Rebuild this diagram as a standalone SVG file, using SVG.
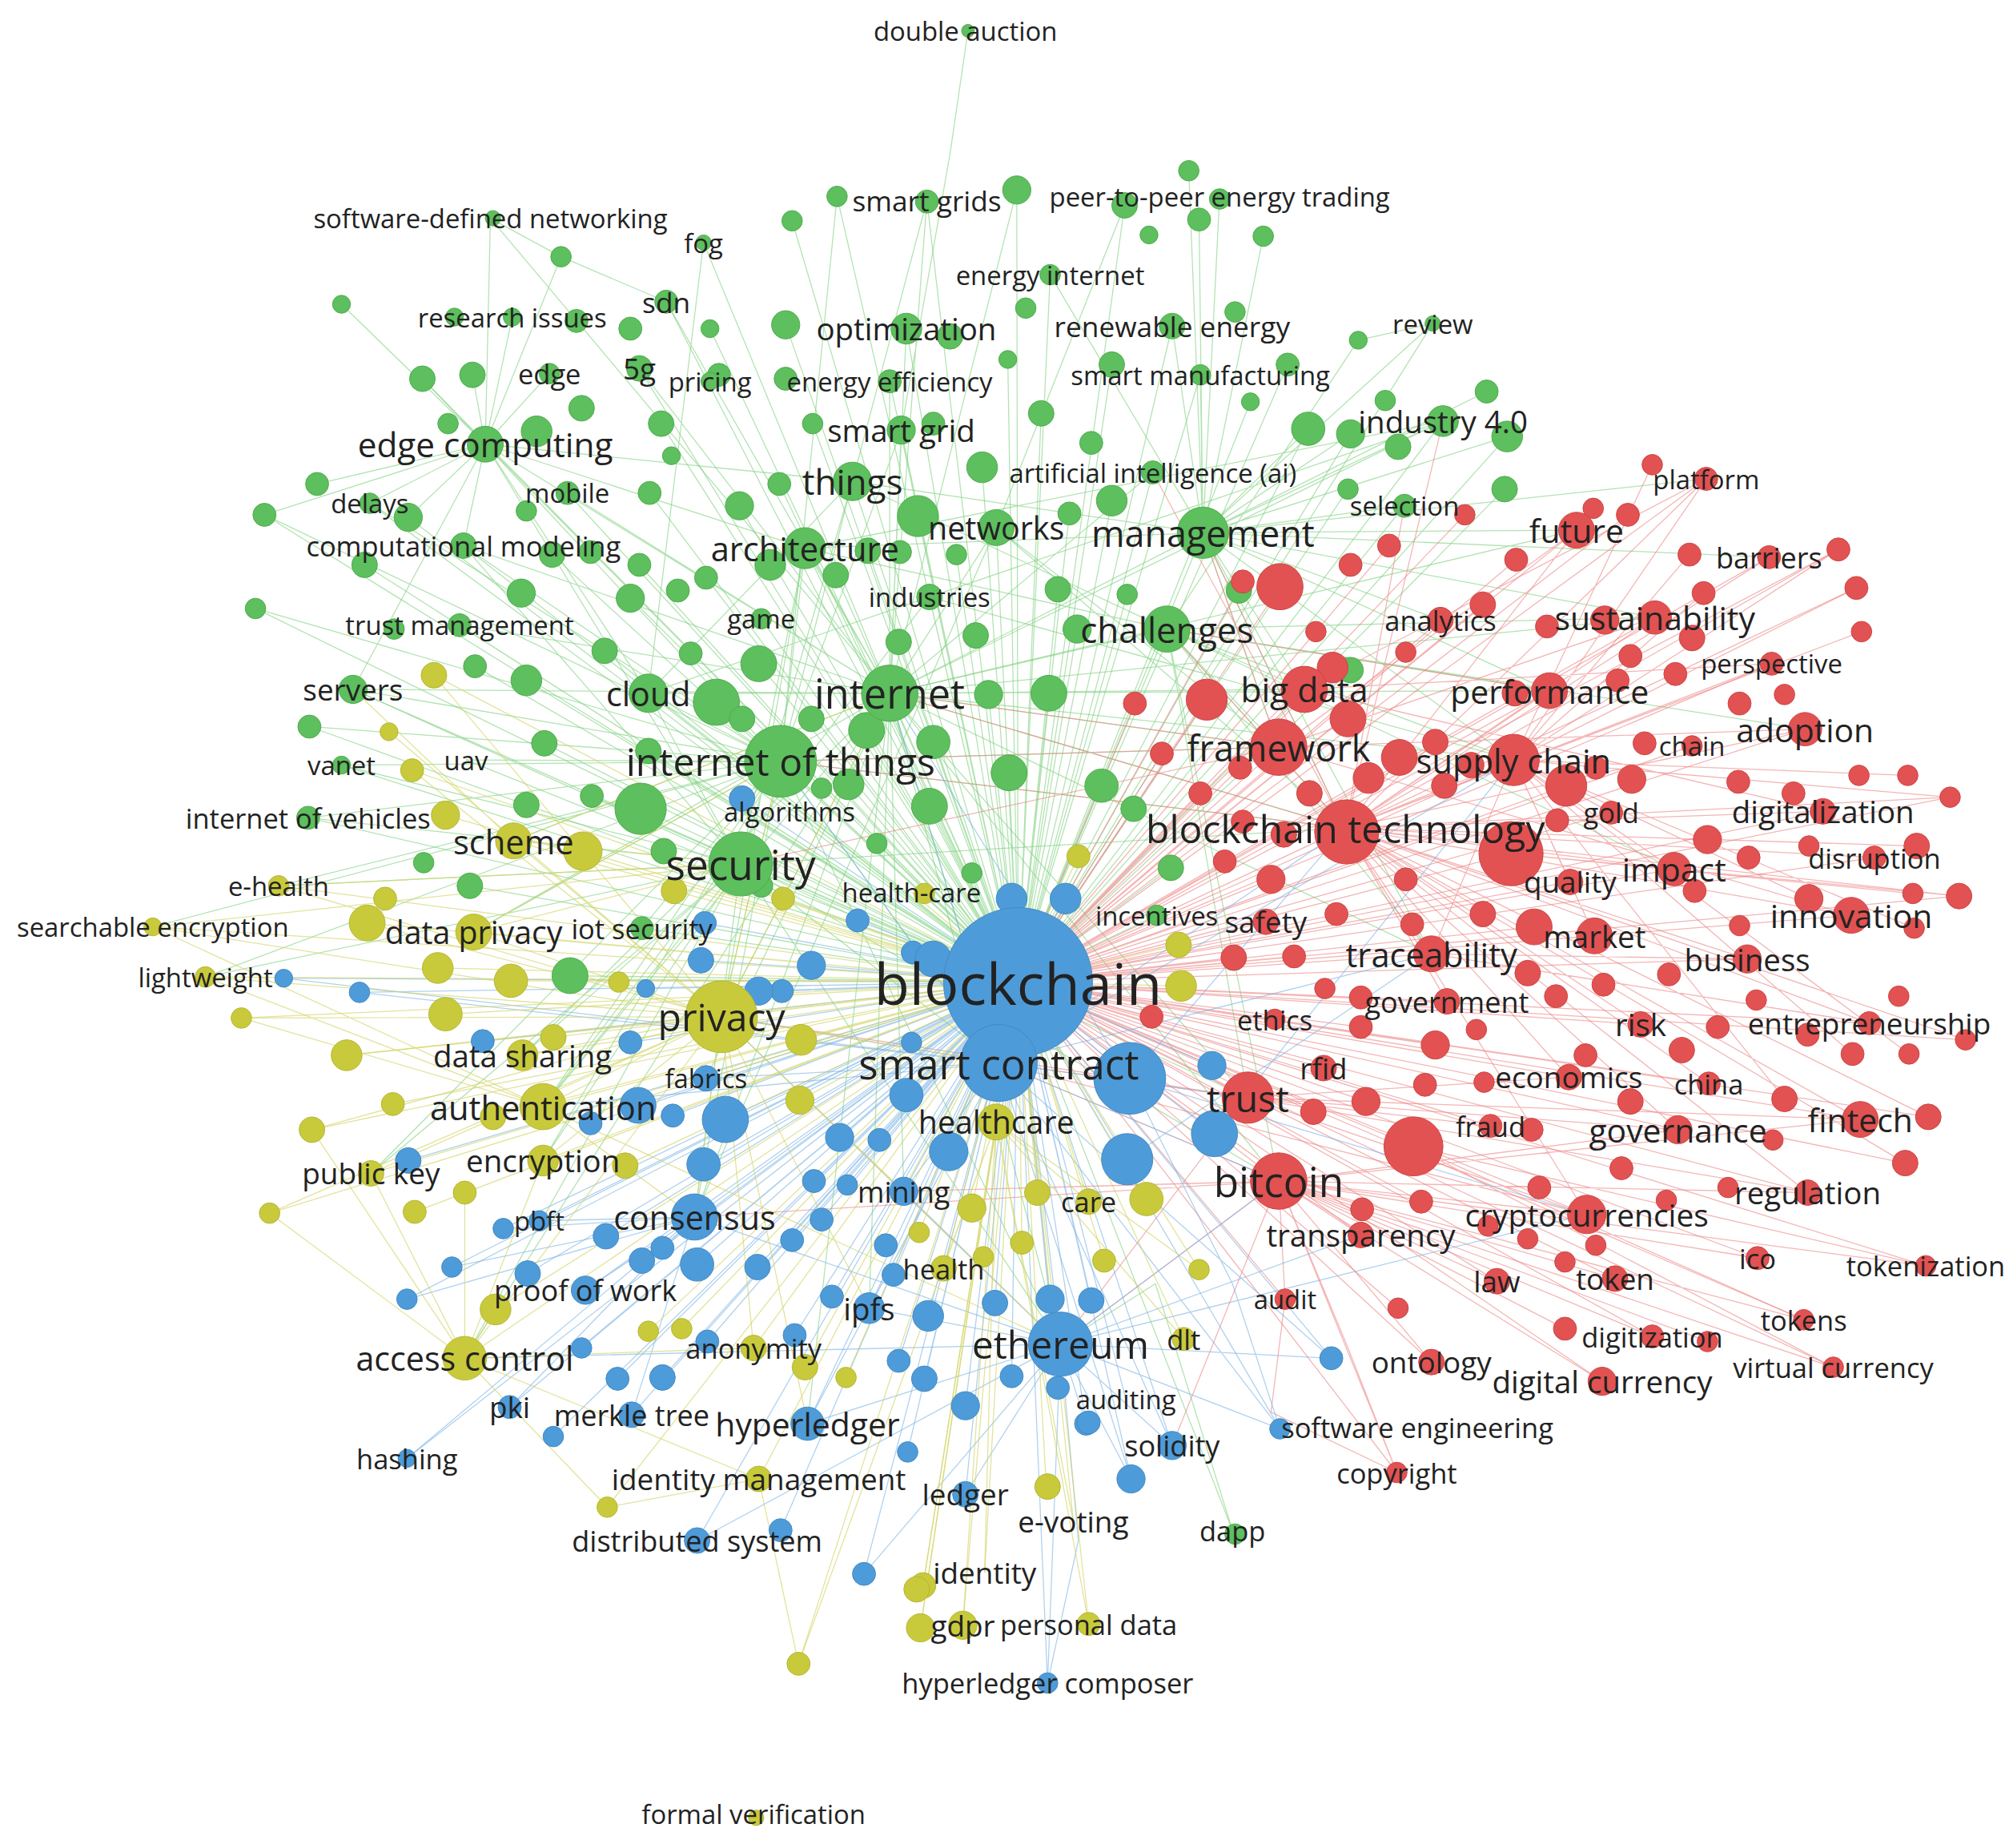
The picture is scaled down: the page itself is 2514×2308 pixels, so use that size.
<svg xmlns="http://www.w3.org/2000/svg" width="2514" height="2308" viewBox="0 0 2514 2308">
<style>
text{font-family:"Open Sans","Noto Sans","Liberation Sans",sans-serif;fill:#222;text-anchor:middle;dominant-baseline:central}
.g circle{fill:#5dbf5d;stroke:#4eaa4e;stroke-width:0.6}
.r circle{fill:#e25252;stroke:#cc4444;stroke-width:0.6}
.b circle{fill:#4e9bd9;stroke:#4388c2;stroke-width:0.6}
.y circle{fill:#c8ca3c;stroke:#b3b532;stroke-width:0.6}
.eg{stroke:#7fd07f;stroke-opacity:0.6;fill:none;stroke-width:0.8}
.er{stroke:#ec8484;stroke-opacity:0.6;fill:none;stroke-width:0.8}
.eb{stroke:#7ab2e3;stroke-opacity:0.6;fill:none;stroke-width:0.8}
.ey{stroke:#d2d466;stroke-opacity:0.65;fill:none;stroke-width:0.8}
</style>
<rect width="2514" height="2308" fill="#ffffff"/>
<g transform="scale(1.60332)">
<g id="connectors">
<path class="eg" d="M793 765L722 156M793 765L706 256M793 765L818 214M793 765L913 254M793 765L693 297M793 765L702 335M793 765L664 375M793 765L776 411M793 765L937 415M793 765L627 427M793 765L724 465M793 765L909 490M793 765L693 540M793 765L608 593M793 765L577 673M793 765L505 540M793 765L378 346M793 765L898 368M793 765L1124 328M793 765L498 287M793 765L519 235M793 765L935 292M793 765L275 537M793 765L361 425M793 765L358 487M793 765L593 482M793 765L442 384M793 765L288 392M793 765L1094 394M793 765L652 153M793 765L792 148M793 765L617 172M793 765L876 160M793 765L553 256M793 765L612 253M793 765L785 280M793 765L866 284M793 765L1003 284M793 765L515 330M793 765L633 330M793 765L811 322M793 765L974 313M793 765L1019 334M793 765L1052 338M793 765L1174 340M793 765L765 364M793 765L576 394M793 765L607 377M793 765L506 384M793 765L715 402M793 765L866 390M793 765L833 400M793 765L1050 381M793 765L1172 381M793 765L430 432M793 765L498 440M793 765L550 450M793 765L676 429M793 765L745 432M793 765L491 466M793 765L651 448M793 765L824 459M793 765L878 463M793 765L965 460M793 765L471 507M793 765L591 517M793 765L770 541M793 765L817 540M793 765L839 490M793 765L424 579M793 765L505 585M793 765L558 547M793 765L675 569M793 765L727 578M793 765L786 602M793 765L858 612M793 765L883 630M793 765L461 620M793 765L499 630M793 765L724 628M793 765L661 611M793 765L683 657M793 765L757 680M793 765L912 676M793 765L901 713M793 765L500 723M793 765L266 596M793 765L240 637M793 765L363 592M793 765L1052 522M793 765L1116 252M793 765L960 1192M793 765L410 530M793 765L370 519M793 765L241 566M793 765L199 474M793 765L206 401M793 765L318 403M793 765L284 440M793 765L329 295M793 765L444 760M793 765L366 690"/>
<path class="eg" d="M693 540L722 156M693 540L706 256M693 540L693 297M693 540L702 335M693 540L627 427M693 540L505 540M693 540L378 346M693 540L275 537M693 540L442 384M693 540L498 287M693 540L519 235M693 540L937 415M693 540L909 490M693 540L776 411M693 540L361 425M693 540L358 487M693 540L1124 328M693 540L898 368M693 540L548 189M693 540L382 170M608 593L378 346M608 593L275 537M608 593L266 596M608 593L240 637M608 593L363 592M608 593L288 392M608 593L361 425M608 593L199 474M608 593L206 401M608 593L241 566M608 593L505 540M608 593L500 723M608 593L627 427M608 593L664 375M608 593L702 335M937 415L1124 328M937 415L1094 394M937 415L1174 340M937 415L1158 305M937 415L1019 334M937 415L935 292M937 415L913 254M937 415L818 214M937 415L950 153M937 415L1116 252M937 415L984 184M937 415L1052 338M937 415L926 133M937 415L934 171M378 346L266 237M378 346L329 295M378 346L368 292M378 346L428 291M378 346L399 247M378 346L247 377M378 346L206 401M378 346L288 392M378 346L318 403M378 346L361 425M378 346L275 537M378 346L505 540M378 346L382 170M378 346L437 200M754 24L740 120L702 335M382 170L437 200L519 235M548 189L505 540M722 156L664 375M652 153L608 593M792 148L693 540M876 160L776 411M577 673L275 537M577 673L378 346M577 673L361 425M577 673L505 540M577 673L266 596M577 673L240 637M664 375L909 490M627 427L937 415M505 540L1124 328M1116 252L1058 265L909 490M960 1192L900 1000L826 1047"/>
<path class="eg" d="M693 540L1016 537M693 540L996 582M693 540L1048 645M693 540L1179 592M693 540L1207 538M693 540L1228 413M693 540L1115 743M693 540L972 855M693 540L996 920M693 540L1289 481M693 540L541 948M693 540L826 1047M693 540L778 828M693 540L677 1019M693 540L704 928M693 540L550 840M693 540L629 1109M693 540L562 792M693 540L423 862M693 540L400 655M693 540L369 726M693 540L362 1058M693 540L407 822M608 593L562 792M608 593L423 862M608 593L423 904M608 593L369 726M608 593L541 948M608 593L778 828M608 593L1048 645M608 593L996 582M608 593L826 1047M608 593L289 914M608 593L217 690M608 593L160 761M608 593L119 722M577 673L423 862M577 673L423 904M577 673L362 1058M577 673L407 822M577 673L541 948M577 673L289 914M577 673L217 690M577 673L160 761M577 673L778 828M577 673L826 1047M577 673L1048 645M577 673L996 920M577 673L972 855M937 415L1016 537M937 415L996 582M937 415L1048 645M937 415L1179 592M937 415L1207 538M937 415L1289 481M937 415L1228 413M937 415L1122 483M937 415L1115 743M937 415L1329 373M937 415L1378 434M909 490L1016 537M909 490L996 582M909 490L1048 645M909 490L1179 592M909 490L1207 538M909 490L1289 481M909 490L1406 568M909 490L1304 677M909 490L1115 743M909 490L972 855M909 490L996 920M627 427L378 346M627 427L1124 328M627 427L909 490M627 427L562 792M627 427L577 673M664 375L378 346M664 375L937 415M664 375L505 540M664 375L577 673M776 411L1048 645M776 411L996 582M776 411L541 948M724 465L1179 592M724 465L423 862"/>
<path class="er" d="M793 765L1329 373M793 765L1228 413M793 765L1378 434M793 765L1122 483M793 765L1289 481M793 765L1380 517M793 765L1016 537M793 765L1207 538M793 765L996 582M793 765L1179 592M793 765L1318 581M793 765L1406 568M793 765L1048 645M793 765L1255 633M793 765L1420 632M793 765L1460 668M793 765L1304 677M793 765L1223 687M793 765L1442 713M793 765L986 718M793 765L1242 729M793 765L1115 743M793 765L1361 747M793 765L1127 780M793 765L1278 798M793 765L1456 797M793 765L993 794M793 765L1031 832M793 765L1222 839M793 765L1331 844M793 765L972 855M793 765L1161 877M793 765L1307 880M793 765L1449 872M793 765L996 920M793 765L1408 929M793 765L1236 946M793 765L1060 962M793 765L1166 998M793 765L1258 996M793 765L1369 980M793 765L1001 1012M793 765L1405 1028M793 765L1287 1041M793 765L1115 1061M793 765L1248 1076M793 765L1428 1065M793 765L1088 1147M793 765L1101 893M793 765L1177 665M793 765L997 457M793 765L940 545M793 765L1500 986M793 765L1519 621M793 765L1526 698M793 765L1531 810M793 765L1484 906M793 765L1502 870M793 765L1432 428M793 765L1446 458M793 765L1268 401M793 765L1181 436M793 765L1141 401M793 765L1082 425M793 765L1025 492M793 765L968 453M793 765L1155 471M793 765L1038 520M793 765L884 548M793 765L905 587M793 765L966 598M793 765L1066 606M793 765L1220 612M793 765L1195 722M793 765L990 685M793 765L961 746M793 765L954 671M793 765L935 618M793 765L897 792M793 765L1008 745M793 765L1064 858M793 765L1023 866M793 765L1118 814M793 765L1060 800M793 765L1107 936M793 765L1089 1019"/>
<path class="er" d="M1048 645L1329 373M1048 645L1228 413M1048 645L1378 434M1048 645L1289 481M1048 645L1380 517M1048 645L1207 538M1048 645L1179 592M1048 645L1406 568M1048 645L1420 632M1048 645L1460 668M1048 645L1304 677M1048 645L1442 713M1048 645L1361 747M1048 645L1456 797M1048 645L1278 798M1048 645L1331 844M1048 645L1307 880M1048 645L1449 872M1048 645L1408 929M1048 645L1236 946M1048 645L1115 743M1048 645L1127 780M1048 645L1222 839M1048 645L1519 621M1048 645L1526 698M1048 645L1531 810M1048 645L1484 906M1048 645L1502 870M1048 645L1432 428M1048 645L1450 492M1048 645L1493 659M1179 592L1329 373M1179 592L1432 428M1179 592L1446 458M1179 592L1486 604M1179 592L1519 621M1179 592L1491 723M1179 592L1487 821M1179 592L1409 700M1179 592L1443 821M1179 592L1390 856M1179 592L1115 743M1179 592L1242 729M1179 592L1223 687M1179 592L1304 677M1179 592L1255 633M1179 592L1287 362M1179 592L1316 432M1179 592L1327 462M996 920L1236 946M996 920L1166 998M996 920L1258 996M996 920L1369 980M996 920L1405 1028M996 920L1287 1041M996 920L1428 1065M996 920L1248 1076M996 920L1115 1061M996 920L1088 1147M996 920L1001 1012M996 920L1060 962M996 920L1219 1035M996 920L1500 986M996 920L1408 929M996 920L1449 872M996 920L1307 880M996 920L1330 1045M972 855L1449 872M972 855L1408 929M972 855L1236 946M972 855L1307 880M972 855L1161 877M972 855L1222 839M996 582L1228 413M996 582L1289 481M996 582L1442 713M996 582L1406 568M1016 537L1329 373M1016 537L1380 517M1016 537L1420 632M1115 743L1456 797M1115 743L1361 747M1101 893L1428 1065M1101 893L1405 1028M1101 893L1500 986M1177 665L1526 698M1177 665L1490 696M1088 1147L1050 1050L996 920M1001 1012L990 1100L1088 1147M1048 645L937 415M1048 645L909 490M1048 645L1124 328M1048 645L693 540M1048 645L608 593M1048 645L1094 394M1048 645L898 368M996 920L826 1047M996 920L778 828M996 920L541 948M996 920L704 928M996 920L913 1126M972 855L778 828M972 855L826 1047M972 855L562 792M996 582L693 540M996 582L608 593M996 582L577 673M996 582L937 415M1207 538L909 490M1236 946L778 828"/>
<path class="eb" d="M793 765L550 840M793 765L541 948M793 765L420 951M793 765L456 1005M793 765L704 928M793 765L677 1019M793 765L826 1047M793 765L397 1096M793 765L492 1102M793 765L629 1109M793 765L317 1136M793 765L913 1126M793 765L752 1164M793 765L543 1200M793 765L816 1311M793 765L997 1113M793 765L877 1090M793 765L578 622M793 765L221 762M793 765L280 773M793 765L376 811M793 765L491 812M793 765L460 875M793 765L524 869M793 765L565 872M793 765L497 861M793 765L548 907M793 765L654 886M793 765L685 888M793 765L706 853M793 765L739 897M793 765L711 742M793 765L668 717M793 765L632 752M793 765L609 772M793 765L591 772M793 765L546 748M793 765L503 770M793 765L549 719M793 765L710 812M793 765L944 830M793 765L946 883M793 765L880 840M793 765L878 903M793 765L660 923M793 765L634 920M793 765L640 950M793 765L318 904M793 765L392 957M793 765L352 987M793 765L411 992M793 765L472 963M793 765L500 982M793 765L543 985M793 765L590 987M793 765L516 972M793 765L617 966M793 765L696 993M793 765L648 1010M793 765L619 1040M793 765L723 1025M793 765L775 1015M793 765L818 1012M793 765L850 1013M793 765L317 1012M793 765L453 1050M793 765L481 1074M793 765L516 1073M793 765L551 1045M793 765L720 1074M793 765L752 1095M793 765L788 1072M793 765L846 1109M793 765L824 1081M793 765L881 1152M793 765L707 1131M793 765L431 1119M793 765L673 1226M793 765L1037 1058M793 765L608 1192M793 765L700 1060M793 765L727 747M793 765L788 700M793 765L830 700"/>
<path class="eb" d="M826 1047L913 1126M826 1047L881 1152M826 1047L816 1311M826 1047L752 1164M826 1047L629 1109M826 1047L677 1019M826 1047L704 928M826 1047L541 948M826 1047L997 1113M826 1047L1037 1058M826 1047L846 1109M826 1047L673 1226M826 1047L543 1200M541 948L420 951M541 948L456 1005M541 948L397 1096M541 948L317 1136M541 948L492 1102M541 948L352 987M541 948L317 1012M541 948L392 957M778 828L550 840M778 828L704 928M778 828L677 1019M778 828L629 1109M778 828L913 1126M778 828L881 1152M778 828L997 1113M778 828L1037 1058M778 828L280 773M778 828L221 762M997 1113L960 1000L880 840M816 1311L840 1200L826 1047M778 828L562 792M778 828L423 862M778 828L608 593M778 828L693 540M778 828L1048 645M778 828L996 920M778 828L972 855M778 828L1115 743M778 828L1179 592M826 1047L996 920M826 1047L1060 962M826 1047L1236 946M826 1047L562 792M826 1047L362 1058M880 840L1048 645M880 840L693 540M880 840L1236 946M878 903L1115 743M946 883L1179 592"/>
<path class="ey" d="M793 765L400 655M793 765L217 690M793 765L119 722M793 765L369 726M793 765L160 761M793 765L562 792M793 765L407 822M793 765L423 862M793 765L423 904M793 765L289 914M793 765L362 1058M793 765L587 1050M793 765L922 1043M793 765L848 936M793 765L735 988M793 765L776 874M793 765L591 1152M793 765L836 1185M793 765L767 1225M793 765L750 1266M793 765L848 1265M793 765L710 695M793 765L338 526M793 765L321 600M793 765L347 635M793 765L454 663M793 765L525 694M793 765L286 719M793 765L341 754M793 765L398 764M793 765L188 793M793 765L347 790M793 765L270 822M793 765L431 808M793 765L306 860M793 765L243 880M793 765L384 870M793 765L487 908M793 765L362 929M793 765L323 944M793 765L210 945M793 765L386 1020M793 765L505 1037M793 765L531 1035M793 765L627 1065M793 765L659 1073M793 765L716 960M793 765L757 941M793 765L796 968M793 765L808 929M793 765L893 934M793 765L860 982M793 765L934 989M793 765L719 1235M793 765L717 1268M793 765L622 1296M793 765L473 1174M793 765L815 1158M793 765L624 810M793 765L623 857M793 765L920 768M793 765L918 736M793 765L840 667M793 765L610 700"/>
<path class="ey" d="M562 792L400 655M562 792L369 726M562 792L217 690M562 792L119 722M562 792L160 761M562 792L407 822M562 792L423 862M562 792L423 904M562 792L289 914M562 792L362 1058M562 792L587 1050M562 792L210 945M562 792L243 880M562 792L188 793M562 792L270 822M562 792L286 719M562 792L338 526M562 792L321 600M562 792L303 570M362 1058L423 904M362 1058L289 914M362 1058L362 929M362 1058L386 1020M362 1058L591 1152M362 1058L473 1174M362 1058L587 1050M362 1058L210 945M362 1058L243 880M776 874L848 936M776 874L735 988M776 874L836 1185M776 874L767 1225M776 874L750 1266M776 874L848 1265M776 874L622 1296M776 874L717 1268M776 874L719 1235M776 874L922 1043M776 874L934 989M577 673L400 655M577 673L217 690M577 673L119 722M577 673L369 726M423 862L119 722M423 862L160 761M423 862L188 793M591 1152L622 1296M591 1152L473 1174M562 792L778 828M562 792L826 1047M562 792L541 948M562 792L608 593M562 792L693 540M562 792L704 928M562 792L677 1019M562 792L629 1109M400 655L693 540M400 655L275 537M369 726L608 593M423 862L541 948M423 862L826 1047"/>
</g>
<g id="nodes">
<g class="g"><circle cx="926" cy="133" r="8"/></g><g class="g"><circle cx="652" cy="153" r="8"/></g><g class="g"><circle cx="792" cy="148" r="11"/></g><g class="g"><circle cx="617" cy="172" r="8"/></g><g class="g"><circle cx="876" cy="160" r="10"/></g><g class="g"><circle cx="934" cy="171" r="9"/></g><g class="g"><circle cx="895" cy="183" r="7"/></g><g class="g"><circle cx="984" cy="184" r="8"/></g><g class="g"><circle cx="437" cy="200" r="8"/></g><g class="g"><circle cx="266" cy="237" r="7"/></g><g class="g"><circle cx="799" cy="240" r="8"/></g><g class="g"><circle cx="962" cy="243" r="8"/></g><g class="g"><circle cx="1058" cy="265" r="7"/></g><g class="g"><circle cx="354" cy="247" r="7"/></g><g class="g"><circle cx="449" cy="250" r="9"/></g><g class="g"><circle cx="491" cy="256" r="9"/></g><g class="g"><circle cx="612" cy="253" r="11"/></g><g class="g"><circle cx="553" cy="256" r="7"/></g><g class="g"><circle cx="785" cy="280" r="7"/></g><g class="g"><circle cx="866" cy="284" r="10"/></g><g class="g"><circle cx="1003" cy="284" r="9"/></g><g class="g"><circle cx="329" cy="295" r="10"/></g><g class="g"><circle cx="368" cy="292" r="10"/></g><g class="g"><circle cx="453" cy="318" r="10"/></g><g class="g"><circle cx="515" cy="330" r="10"/></g><g class="g"><circle cx="633" cy="330" r="8"/></g><g class="g"><circle cx="811" cy="322" r="10"/></g><g class="g"><circle cx="974" cy="313" r="7"/></g><g class="g"><circle cx="1019" cy="334" r="13"/></g><g class="g"><circle cx="1052" cy="338" r="11"/></g><g class="g"><circle cx="1079" cy="312" r="8"/></g><g class="g"><circle cx="1158" cy="305" r="9"/></g><g class="g"><circle cx="1174" cy="340" r="12"/></g><g class="g"><circle cx="1089" cy="348" r="10"/></g><g class="g"><circle cx="349" cy="330" r="8"/></g><g class="g"><circle cx="418" cy="336" r="12"/></g><g class="g"><circle cx="765" cy="364" r="12"/></g><g class="g"><circle cx="727" cy="330" r="9"/></g><g class="g"><circle cx="523" cy="355" r="7"/></g><g class="g"><circle cx="576" cy="394" r="11"/></g><g class="g"><circle cx="607" cy="377" r="9"/></g><g class="g"><circle cx="506" cy="384" r="9"/></g><g class="g"><circle cx="247" cy="377" r="9"/></g><g class="g"><circle cx="206" cy="401" r="9"/></g><g class="g"><circle cx="318" cy="403" r="11"/></g><g class="g"><circle cx="410" cy="398" r="8"/></g><g class="g"><circle cx="715" cy="402" r="16"/></g><g class="g"><circle cx="866" cy="390" r="12"/></g><g class="g"><circle cx="833" cy="400" r="9"/></g><g class="g"><circle cx="1050" cy="381" r="8"/></g><g class="g"><circle cx="1172" cy="381" r="10"/></g><g class="g"><circle cx="284" cy="440" r="10"/></g><g class="g"><circle cx="430" cy="432" r="10"/></g><g class="g"><circle cx="460" cy="430" r="9"/></g><g class="g"><circle cx="498" cy="440" r="9"/></g><g class="g"><circle cx="550" cy="450" r="9"/></g><g class="g"><circle cx="676" cy="429" r="10"/></g><g class="g"><circle cx="701" cy="430" r="9"/></g><g class="g"><circle cx="745" cy="432" r="8"/></g><g class="g"><circle cx="199" cy="474" r="8"/></g><g class="g"><circle cx="406" cy="462" r="11"/></g><g class="g"><circle cx="491" cy="466" r="11"/></g><g class="g"><circle cx="528" cy="460" r="9"/></g><g class="g"><circle cx="651" cy="448" r="10"/></g><g class="g"><circle cx="824" cy="459" r="10"/></g><g class="g"><circle cx="878" cy="463" r="8"/></g><g class="g"><circle cx="965" cy="460" r="10"/></g><g class="g"><circle cx="307" cy="490" r="8"/></g><g class="g"><circle cx="370" cy="519" r="9"/></g><g class="g"><circle cx="410" cy="530" r="12"/></g><g class="g"><circle cx="471" cy="507" r="10"/></g><g class="g"><circle cx="591" cy="517" r="14"/></g><g class="g"><circle cx="538" cy="509" r="9"/></g><g class="g"><circle cx="770" cy="541" r="11"/></g><g class="g"><circle cx="817" cy="540" r="14"/></g><g class="g"><circle cx="839" cy="490" r="11"/></g><g class="g"><circle cx="1052" cy="522" r="10"/></g><g class="g"><circle cx="241" cy="566" r="9"/></g><g class="g"><circle cx="424" cy="579" r="10"/></g><g class="g"><circle cx="505" cy="585" r="10"/></g><g class="g"><circle cx="558" cy="547" r="18"/></g><g class="g"><circle cx="675" cy="569" r="14"/></g><g class="g"><circle cx="727" cy="578" r="13"/></g><g class="g"><circle cx="786" cy="602" r="14"/></g><g class="g"><circle cx="858" cy="612" r="13"/></g><g class="g"><circle cx="883" cy="630" r="10"/></g><g class="g"><circle cx="461" cy="620" r="9"/></g><g class="g"><circle cx="410" cy="627" r="10"/></g><g class="g"><circle cx="499" cy="630" r="20"/></g><g class="g"><circle cx="724" cy="628" r="14"/></g><g class="g"><circle cx="661" cy="611" r="12"/></g><g class="g"><circle cx="640" cy="614" r="8"/></g><g class="g"><circle cx="517" cy="663" r="10"/></g><g class="g"><circle cx="683" cy="657" r="8"/></g><g class="g"><circle cx="366" cy="690" r="10"/></g><g class="g"><circle cx="593" cy="690" r="9"/></g><g class="g"><circle cx="757" cy="680" r="8"/></g><g class="g"><circle cx="912" cy="676" r="10"/></g><g class="g"><circle cx="444" cy="760" r="14"/></g><g class="g"><circle cx="330" cy="672" r="8"/></g><g class="g"><circle cx="578" cy="560" r="10"/></g><g class="g"><circle cx="632" cy="560" r="10"/></g><g class="g"><circle cx="760" cy="495" r="10"/></g><g class="g"><circle cx="700" cy="500" r="10"/></g><g class="g"><circle cx="600" cy="440" r="12"/></g><g class="g"><circle cx="850" cy="345" r="9"/></g><g class="g"><circle cx="740" cy="262" r="10"/></g><g class="g"><circle cx="612" cy="295" r="9"/></g><g class="g"><circle cx="560" cy="292" r="9"/></g>
<g class="r"><circle cx="1287" cy="362" r="8"/></g><g class="r"><circle cx="1268" cy="401" r="9"/></g><g class="r"><circle cx="1241" cy="396" r="8"/></g><g class="r"><circle cx="1181" cy="436" r="9"/></g><g class="r"><circle cx="1141" cy="401" r="8"/></g><g class="r"><circle cx="1082" cy="425" r="9"/></g><g class="r"><circle cx="1052" cy="440" r="9"/></g><g class="r"><circle cx="1025" cy="492" r="8"/></g><g class="r"><circle cx="968" cy="453" r="9"/></g><g class="r"><circle cx="1155" cy="471" r="10"/></g><g class="r"><circle cx="1316" cy="432" r="9"/></g><g class="r"><circle cx="1432" cy="428" r="9"/></g><g class="r"><circle cx="1446" cy="458" r="9"/></g><g class="r"><circle cx="1450" cy="492" r="8"/></g><g class="r"><circle cx="1327" cy="462" r="9"/></g><g class="r"><circle cx="1318" cy="497" r="10"/></g><g class="r"><circle cx="1305" cy="525" r="9"/></g><g class="r"><circle cx="1355" cy="548" r="9"/></g><g class="r"><circle cx="1390" cy="541" r="8"/></g><g class="r"><circle cx="1270" cy="511" r="9"/></g><g class="r"><circle cx="1250" cy="483" r="11"/></g><g class="r"><circle cx="1205" cy="488" r="9"/></g><g class="r"><circle cx="1095" cy="508" r="8"/></g><g class="r"><circle cx="1038" cy="520" r="12"/></g><g class="r"><circle cx="884" cy="548" r="9"/></g><g class="r"><circle cx="905" cy="587" r="9"/></g><g class="r"><circle cx="940" cy="545" r="16"/></g><g class="r"><circle cx="966" cy="598" r="9"/></g><g class="r"><circle cx="1066" cy="606" r="12"/></g><g class="r"><circle cx="1118" cy="578" r="10"/></g><g class="r"><circle cx="1146" cy="596" r="10"/></g><g class="r"><circle cx="1220" cy="612" r="16"/></g><g class="r"><circle cx="1243" cy="598" r="9"/></g><g class="r"><circle cx="1281" cy="579" r="9"/></g><g class="r"><circle cx="1271" cy="607" r="11"/></g><g class="r"><circle cx="1354" cy="609" r="9"/></g><g class="r"><circle cx="1397" cy="618" r="9"/></g><g class="r"><circle cx="1448" cy="604" r="8"/></g><g class="r"><circle cx="1486" cy="604" r="8"/></g><g class="r"><circle cx="1519" cy="621" r="8"/></g><g class="r"><circle cx="1493" cy="659" r="10"/></g><g class="r"><circle cx="1409" cy="659" r="8"/></g><g class="r"><circle cx="1362" cy="668" r="9"/></g><g class="r"><circle cx="1330" cy="654" r="11"/></g><g class="r"><circle cx="1213" cy="639" r="9"/></g><g class="r"><circle cx="1320" cy="694" r="9"/></g><g class="r"><circle cx="1355" cy="721" r="8"/></g><g class="r"><circle cx="1409" cy="700" r="11"/></g><g class="r"><circle cx="1490" cy="696" r="8"/></g><g class="r"><circle cx="1526" cy="698" r="10"/></g><g class="r"><circle cx="1491" cy="723" r="8"/></g><g class="r"><circle cx="1195" cy="722" r="14"/></g><g class="r"><circle cx="1155" cy="712" r="10"/></g><g class="r"><circle cx="1095" cy="685" r="9"/></g><g class="r"><circle cx="1041" cy="712" r="9"/></g><g class="r"><circle cx="990" cy="685" r="11"/></g><g class="r"><circle cx="961" cy="746" r="10"/></g><g class="r"><circle cx="954" cy="671" r="9"/></g><g class="r"><circle cx="935" cy="618" r="9"/></g><g class="r"><circle cx="968" cy="640" r="9"/></g><g class="r"><circle cx="897" cy="792" r="9"/></g><g class="r"><circle cx="1008" cy="745" r="9"/></g><g class="r"><circle cx="1032" cy="770" r="8"/></g><g class="r"><circle cx="1060" cy="777" r="9"/></g><g class="r"><circle cx="1190" cy="758" r="10"/></g><g class="r"><circle cx="1212" cy="776" r="9"/></g><g class="r"><circle cx="1249" cy="767" r="9"/></g><g class="r"><circle cx="1300" cy="759" r="9"/></g><g class="r"><circle cx="1368" cy="779" r="8"/></g><g class="r"><circle cx="1408" cy="806" r="9"/></g><g class="r"><circle cx="1479" cy="776" r="8"/></g><g class="r"><circle cx="1487" cy="821" r="8"/></g><g class="r"><circle cx="1531" cy="810" r="8"/></g><g class="r"><circle cx="1443" cy="821" r="9"/></g><g class="r"><circle cx="1338" cy="800" r="9"/></g><g class="r"><circle cx="1310" cy="818" r="10"/></g><g class="r"><circle cx="1270" cy="858" r="10"/></g><g class="r"><circle cx="1235" cy="822" r="9"/></g><g class="r"><circle cx="1150" cy="802" r="8"/></g><g class="r"><circle cx="1060" cy="800" r="9"/></g><g class="r"><circle cx="1118" cy="814" r="11"/></g><g class="r"><circle cx="1064" cy="858" r="11"/></g><g class="r"><circle cx="1110" cy="845" r="9"/></g><g class="r"><circle cx="1023" cy="866" r="10"/></g><g class="r"><circle cx="1193" cy="880" r="9"/></g><g class="r"><circle cx="1156" cy="843" r="8"/></g><g class="r"><circle cx="1263" cy="910" r="9"/></g><g class="r"><circle cx="1298" cy="935" r="8"/></g><g class="r"><circle cx="1346" cy="925" r="8"/></g><g class="r"><circle cx="1381" cy="888" r="8"/></g><g class="r"><circle cx="1390" cy="856" r="10"/></g><g class="r"><circle cx="1484" cy="906" r="10"/></g><g class="r"><circle cx="1502" cy="870" r="10"/></g><g class="r"><circle cx="1199" cy="925" r="9"/></g><g class="r"><circle cx="1107" cy="936" r="9"/></g><g class="r"><circle cx="1061" cy="942" r="9"/></g><g class="r"><circle cx="1159" cy="955" r="8"/></g><g class="r"><circle cx="1190" cy="965" r="8"/></g><g class="r"><circle cx="1243" cy="970" r="8"/></g><g class="r"><circle cx="1219" cy="983" r="8"/></g><g class="r"><circle cx="1089" cy="1019" r="8"/></g><g class="r"><circle cx="1219" cy="1035" r="9"/></g><g class="r"><circle cx="1330" cy="1045" r="8"/></g><g class="r"><circle cx="1177" cy="665" r="25"/></g><g class="r"><circle cx="1101" cy="893" r="23"/></g><g class="r"><circle cx="997" cy="457" r="18"/></g><g class="r"><circle cx="1050" cy="560" r="14"/></g><g class="r"><circle cx="1125" cy="612" r="10"/></g><g class="r"><circle cx="1180" cy="540" r="10"/></g><g class="r"><circle cx="1100" cy="720" r="9"/></g><g class="r"><circle cx="1020" cy="618" r="10"/></g><g class="r"><circle cx="1090" cy="590" r="14"/></g><g class="r"><circle cx="1000" cy="650" r="10"/></g><g class="r"><circle cx="1260" cy="530" r="9"/></g>
<g class="b"><circle cx="280" cy="773" r="8"/></g><g class="b"><circle cx="376" cy="811" r="9"/></g><g class="b"><circle cx="491" cy="812" r="9"/></g><g class="b"><circle cx="460" cy="875" r="9"/></g><g class="b"><circle cx="524" cy="869" r="9"/></g><g class="b"><circle cx="565" cy="872" r="18"/></g><g class="b"><circle cx="497" cy="861" r="14"/></g><g class="b"><circle cx="548" cy="907" r="13"/></g><g class="b"><circle cx="654" cy="886" r="11"/></g><g class="b"><circle cx="685" cy="888" r="9"/></g><g class="b"><circle cx="706" cy="853" r="13"/></g><g class="b"><circle cx="739" cy="897" r="15"/></g><g class="b"><circle cx="711" cy="742" r="9"/></g><g class="b"><circle cx="668" cy="717" r="9"/></g><g class="b"><circle cx="632" cy="752" r="11"/></g><g class="b"><circle cx="609" cy="772" r="9"/></g><g class="b"><circle cx="591" cy="772" r="11"/></g><g class="b"><circle cx="546" cy="748" r="10"/></g><g class="b"><circle cx="503" cy="770" r="7"/></g><g class="b"><circle cx="549" cy="719" r="9"/></g><g class="b"><circle cx="710" cy="812" r="8"/></g><g class="b"><circle cx="944" cy="830" r="11"/></g><g class="b"><circle cx="946" cy="883" r="18"/></g><g class="b"><circle cx="880" cy="840" r="28"/></g><g class="b"><circle cx="878" cy="903" r="20"/></g><g class="b"><circle cx="660" cy="923" r="8"/></g><g class="b"><circle cx="634" cy="920" r="9"/></g><g class="b"><circle cx="640" cy="950" r="9"/></g><g class="b"><circle cx="318" cy="904" r="10"/></g><g class="b"><circle cx="392" cy="957" r="8"/></g><g class="b"><circle cx="352" cy="987" r="8"/></g><g class="b"><circle cx="411" cy="992" r="10"/></g><g class="b"><circle cx="472" cy="963" r="10"/></g><g class="b"><circle cx="500" cy="982" r="10"/></g><g class="b"><circle cx="543" cy="985" r="13"/></g><g class="b"><circle cx="590" cy="987" r="10"/></g><g class="b"><circle cx="516" cy="972" r="9"/></g><g class="b"><circle cx="617" cy="966" r="9"/></g><g class="b"><circle cx="696" cy="993" r="9"/></g><g class="b"><circle cx="648" cy="1010" r="9"/></g><g class="b"><circle cx="619" cy="1040" r="9"/></g><g class="b"><circle cx="723" cy="1025" r="12"/></g><g class="b"><circle cx="775" cy="1015" r="10"/></g><g class="b"><circle cx="818" cy="1012" r="11"/></g><g class="b"><circle cx="850" cy="1013" r="10"/></g><g class="b"><circle cx="317" cy="1012" r="8"/></g><g class="b"><circle cx="453" cy="1050" r="8"/></g><g class="b"><circle cx="481" cy="1074" r="9"/></g><g class="b"><circle cx="516" cy="1073" r="10"/></g><g class="b"><circle cx="551" cy="1045" r="9"/></g><g class="b"><circle cx="720" cy="1074" r="10"/></g><g class="b"><circle cx="752" cy="1095" r="11"/></g><g class="b"><circle cx="788" cy="1072" r="9"/></g><g class="b"><circle cx="846" cy="1109" r="9"/></g><g class="b"><circle cx="824" cy="1081" r="9"/></g><g class="b"><circle cx="881" cy="1152" r="11"/></g><g class="b"><circle cx="707" cy="1131" r="8"/></g><g class="b"><circle cx="431" cy="1119" r="8"/></g><g class="b"><circle cx="673" cy="1226" r="9"/></g><g class="b"><circle cx="1037" cy="1058" r="9"/></g><g class="b"><circle cx="608" cy="1192" r="9"/></g><g class="b"><circle cx="700" cy="1060" r="9"/></g><g class="b"><circle cx="727" cy="747" r="14"/></g><g class="b"><circle cx="788" cy="700" r="12"/></g><g class="b"><circle cx="830" cy="700" r="12"/></g><g class="b"><circle cx="690" cy="970" r="9"/></g><g class="b"><circle cx="221" cy="762" r="7"/></g>
<g class="y"><circle cx="338" cy="526" r="10"/></g><g class="y"><circle cx="303" cy="570" r="7"/></g><g class="y"><circle cx="347" cy="635" r="11"/></g><g class="y"><circle cx="454" cy="663" r="15"/></g><g class="y"><circle cx="525" cy="694" r="10"/></g><g class="y"><circle cx="286" cy="719" r="14"/></g><g class="y"><circle cx="341" cy="754" r="12"/></g><g class="y"><circle cx="398" cy="764" r="13"/></g><g class="y"><circle cx="188" cy="793" r="8"/></g><g class="y"><circle cx="347" cy="790" r="13"/></g><g class="y"><circle cx="270" cy="822" r="12"/></g><g class="y"><circle cx="431" cy="808" r="10"/></g><g class="y"><circle cx="306" cy="860" r="9"/></g><g class="y"><circle cx="243" cy="880" r="10"/></g><g class="y"><circle cx="384" cy="870" r="10"/></g><g class="y"><circle cx="487" cy="908" r="10"/></g><g class="y"><circle cx="362" cy="929" r="9"/></g><g class="y"><circle cx="323" cy="944" r="9"/></g><g class="y"><circle cx="210" cy="945" r="8"/></g><g class="y"><circle cx="386" cy="1020" r="12"/></g><g class="y"><circle cx="505" cy="1037" r="8"/></g><g class="y"><circle cx="531" cy="1035" r="8"/></g><g class="y"><circle cx="627" cy="1065" r="10"/></g><g class="y"><circle cx="659" cy="1073" r="8"/></g><g class="y"><circle cx="716" cy="960" r="8"/></g><g class="y"><circle cx="757" cy="941" r="11"/></g><g class="y"><circle cx="796" cy="968" r="9"/></g><g class="y"><circle cx="808" cy="929" r="10"/></g><g class="y"><circle cx="893" cy="934" r="13"/></g><g class="y"><circle cx="860" cy="982" r="9"/></g><g class="y"><circle cx="934" cy="989" r="8"/></g><g class="y"><circle cx="766" cy="979" r="8"/></g><g class="y"><circle cx="719" cy="1235" r="10"/></g><g class="y"><circle cx="717" cy="1268" r="11"/></g><g class="y"><circle cx="622" cy="1296" r="9"/></g><g class="y"><circle cx="473" cy="1174" r="8"/></g><g class="y"><circle cx="624" cy="810" r="12"/></g><g class="y"><circle cx="623" cy="857" r="11"/></g><g class="y"><circle cx="920" cy="768" r="12"/></g><g class="y"><circle cx="918" cy="736" r="10"/></g><g class="y"><circle cx="840" cy="667" r="9"/></g><g class="y"><circle cx="610" cy="700" r="9"/></g><g class="y"><circle cx="482" cy="765" r="8"/></g><g class="y"><circle cx="300" cy="700" r="9"/></g>

<g id="blockchain" class="b"><circle cx="793" cy="765" r="58"/><text x="793" y="765" font-size="45">blockchain</text></g>
<g id="internet-of-things" class="g"><circle cx="608" cy="593" r="28"/><text x="608" y="593" font-size="30">internet of things</text></g>
<g id="privacy" class="y"><circle cx="562" cy="792" r="28"/><text x="562" y="792" font-size="30">privacy</text></g>
<g id="smart-contract" class="b"><circle cx="778" cy="828" r="30"/><text x="778" y="828" font-size="32">smart contract</text></g>
<g id="security" class="g"><circle cx="577" cy="673" r="25"/><text x="577" y="673" font-size="32">security</text></g>
<g id="ethereum" class="b"><circle cx="826" cy="1047" r="25"/><text x="826" y="1047" font-size="30">ethereum</text></g>
<g id="blockchain-technology" class="r"><circle cx="1049" cy="648" r="25"/><text x="1048" y="645" font-size="30">blockchain technology</text></g>
<g id="internet" class="g"><circle cx="693" cy="540" r="22"/><text x="693" y="540" font-size="31.5">internet</text></g>
<g id="bitcoin" class="r"><circle cx="996" cy="920" r="22"/><text x="996" y="920" font-size="32">bitcoin</text></g>
<g id="framework" class="r"><circle cx="996" cy="582" r="22"/><text x="996" y="582" font-size="28">framework</text></g>
<g id="management" class="g"><circle cx="937" cy="415" r="20"/><text x="937" y="415" font-size="28">management</text></g>
<g id="supply-chain" class="r"><circle cx="1179" cy="592" r="20"/><text x="1179" y="592" font-size="26">supply chain</text></g>
<g id="trust" class="r"><circle cx="972" cy="855" r="20"/><text x="972" y="855" font-size="29">trust</text></g>
<g id="challenges" class="g"><circle cx="909" cy="490" r="18"/><text x="909" y="490" font-size="27.5">challenges</text></g>
<g id="big-data" class="r"><circle cx="1016" cy="537" r="18"/><text x="1016" y="537" font-size="26.5">big data</text></g>
<g id="authentication" class="y"><circle cx="423" cy="862" r="18"/><text x="423" y="862" font-size="26">authentication</text></g>
<g id="consensus" class="b"><circle cx="541" cy="948" r="18"/><text x="541" y="948" font-size="25.7">consensus</text></g>
<g id="access-control" class="y"><circle cx="362" cy="1058" r="17"/><text x="362" y="1058" font-size="25.7">access control</text></g>
<g id="architecture" class="g"><circle cx="627" cy="427" r="16"/><text x="627" y="427" font-size="26">architecture</text></g>
<g id="things" class="g"><circle cx="664" cy="375" r="15"/><text x="664" y="375" font-size="27.5">things</text></g>
<g id="cloud" class="g"><circle cx="505" cy="540" r="15"/><text x="505" y="540" font-size="25.7">cloud</text></g>
<g id="cryptocurrencies" class="r"><circle cx="1236" cy="946" r="15"/><text x="1236" y="946" font-size="24.3">cryptocurrencies</text></g>
<g id="edge-computing" class="g"><circle cx="378" cy="346" r="14"/><text x="378" y="346" font-size="26.4">edge computing</text></g>
<g id="networks" class="g"><circle cx="776" cy="411" r="14"/><text x="776" y="411" font-size="24.6">networks</text></g>
<g id="scheme" class="y"><circle cx="400" cy="655" r="14"/><text x="400" y="655" font-size="26">scheme</text></g>
<g id="data-privacy" class="y"><circle cx="369" cy="726" r="14"/><text x="369" y="726" font-size="24.5">data privacy</text></g>
<g id="healthcare" class="y"><circle cx="776" cy="874" r="14"/><text x="776" y="874" font-size="24.5">healthcare</text></g>
<g id="future" class="r"><circle cx="1228" cy="413" r="14"/><text x="1228" y="413" font-size="25.5">future</text></g>
<g id="performance" class="r"><circle cx="1207" cy="538" r="14"/><text x="1207" y="538" font-size="25.5">performance</text></g>
<g id="innovation" class="r"><circle cx="1442" cy="713" r="14"/><text x="1442" y="713" font-size="25.5">innovation</text></g>
<g id="market" class="r"><circle cx="1242" cy="729" r="14"/><text x="1242" y="729" font-size="24">market</text></g>
<g id="traceability" class="r"><circle cx="1115" cy="743" r="14"/><text x="1115" y="743" font-size="26">traceability</text></g>
<g id="fintech" class="r"><circle cx="1449" cy="872" r="14"/><text x="1449" y="872" font-size="25.5">fintech</text></g>
<g id="sustainability" class="r"><circle cx="1289" cy="481" r="13"/><text x="1289" y="481" font-size="25.5">sustainability</text></g>
<g id="adoption" class="r"><circle cx="1406" cy="568" r="13"/><text x="1406" y="568" font-size="25.5">adoption</text></g>
<g id="impact" class="r"><circle cx="1304" cy="677" r="13"/><text x="1304" y="677" font-size="25.5">impact</text></g>
<g id="hyperledger" class="b"><circle cx="629" cy="1109" r="13"/><text x="629" y="1109" font-size="25.5">hyperledger</text></g>
<g id="optimization" class="g"><circle cx="706" cy="256" r="12"/><text x="706" y="256" font-size="24">optimization</text></g>
<g id="industry-4-0" class="g"><circle cx="1124" cy="328" r="12"/><text x="1124" y="328" font-size="24">industry 4.0</text></g>
<g id="data-sharing" class="y"><circle cx="407" cy="822" r="12"/><text x="407" y="822" font-size="24">data sharing</text></g>
<g id="encryption" class="y"><circle cx="423" cy="904" r="12"/><text x="423" y="904" font-size="24">encryption</text></g>
<g id="ipfs" class="b"><circle cx="677" cy="1019" r="12"/><text x="677" y="1019" font-size="24">ipfs</text></g>
<g id="smart-grid" class="g"><circle cx="702" cy="335" r="11"/><text x="702" y="335" font-size="24">smart grid</text></g>
<g id="servers" class="g"><circle cx="275" cy="537" r="11"/><text x="275" y="537" font-size="23">servers</text></g>
<g id="proof-of-work" class="b"><circle cx="456" cy="1005" r="11"/><text x="456" y="1005" font-size="22.5">proof of work</text></g>
<g id="mining" class="b"><circle cx="704" cy="928" r="11"/><text x="704" y="928" font-size="22.5">mining</text></g>
<g id="solidity" class="b"><circle cx="913" cy="1126" r="11"/><text x="913" y="1126" font-size="22.5">solidity</text></g>
<g id="gdpr" class="y"><circle cx="750" cy="1266" r="11"/><text x="750" y="1266" font-size="23">gdpr</text></g>
<g id="business" class="r"><circle cx="1361" cy="747" r="11"/><text x="1361" y="747" font-size="24">business</text></g>
<g id="governance" class="r"><circle cx="1307" cy="880" r="11"/><text x="1307" y="880" font-size="25.5">governance</text></g>
<g id="digital-currency" class="r"><circle cx="1248" cy="1076" r="11"/><text x="1248" y="1076" font-size="24">digital currency</text></g>
<g id="renewable-energy" class="g"><circle cx="913" cy="254" r="10"/><text x="913" y="254" font-size="22">renewable energy</text></g>
<g id="5g" class="g"><circle cx="498" cy="287" r="10"/><text x="498" y="287" font-size="23">5g</text></g>
<g id="computational-modeling" class="g"><circle cx="361" cy="425" r="10"/><text x="361" y="425" font-size="21.5">computational modeling</text></g>
<g id="industries" class="g"><circle cx="724" cy="465" r="10"/><text x="724" y="465" font-size="20.5">industries</text></g>
<g id="public-key" class="y"><circle cx="289" cy="914" r="10"/><text x="289" y="914" font-size="23">public key</text></g>
<g id="anonymity" class="y"><circle cx="587" cy="1050" r="10"/><text x="587" y="1050" font-size="21.5">anonymity</text></g>
<g id="care" class="y"><circle cx="848" cy="936" r="10"/><text x="848" y="936" font-size="21.5">care</text></g>
<g id="health" class="y"><circle cx="735" cy="988" r="10"/><text x="735" y="988" font-size="21.5">health</text></g>
<g id="identity-management" class="y"><circle cx="591" cy="1152" r="10"/><text x="591" y="1152" font-size="23">identity management</text></g>
<g id="e-voting" class="y"><circle cx="816" cy="1158" r="10"/><text x="836" y="1185" font-size="23">e-voting</text></g>
<g id="identity" class="y"><circle cx="714" cy="1238" r="10"/><text x="767" y="1225" font-size="23">identity</text></g>
<g id="algorithms" class="b"><circle cx="578" cy="622" r="10"/><text x="615" y="632" font-size="20.5">algorithms</text></g>
<g id="fabrics" class="b"><circle cx="550" cy="840" r="10"/><text x="550" y="840" font-size="20.5">fabrics</text></g>
<g id="merkle-tree" class="b"><circle cx="492" cy="1102" r="10"/><text x="492" y="1102" font-size="22.5">merkle tree</text></g>
<g id="ledger" class="b"><circle cx="752" cy="1164" r="10"/><text x="752" y="1164" font-size="23">ledger</text></g>
<g id="distributed-system" class="b"><circle cx="543" cy="1200" r="10"/><text x="543" y="1200" font-size="22.5">distributed system</text></g>
<g id="analytics" class="r"><circle cx="1122" cy="483" r="10"/><text x="1122" y="483" font-size="21.5">analytics</text></g>
<g id="digitalization" class="r"><circle cx="1420" cy="632" r="10"/><text x="1420" y="632" font-size="24">digitalization</text></g>
<g id="quality" class="r"><circle cx="1223" cy="687" r="10"/><text x="1223" y="687" font-size="23">quality</text></g>
<g id="safety" class="r"><circle cx="986" cy="718" r="10"/><text x="986" y="718" font-size="23">safety</text></g>
<g id="government" class="r"><circle cx="1127" cy="780" r="10"/><text x="1127" y="780" font-size="22.5">government</text></g>
<g id="risk" class="r"><circle cx="1278" cy="798" r="10"/><text x="1278" y="798" font-size="24">risk</text></g>
<g id="rfid" class="r"><circle cx="1031" cy="832" r="10"/><text x="1031" y="832" font-size="23">rfid</text></g>
<g id="economics" class="r"><circle cx="1222" cy="839" r="10"/><text x="1222" y="839" font-size="23">economics</text></g>
<g id="regulation" class="r"><circle cx="1408" cy="929" r="10"/><text x="1408" y="929" font-size="24">regulation</text></g>
<g id="transparency" class="r"><circle cx="1060" cy="962" r="10"/><text x="1060" y="962" font-size="24">transparency</text></g>
<g id="law" class="r"><circle cx="1166" cy="998" r="10"/><text x="1166" y="998" font-size="23">law</text></g>
<g id="token" class="r"><circle cx="1258" cy="996" r="10"/><text x="1258" y="996" font-size="23">token</text></g>
<g id="ontology" class="r"><circle cx="1115" cy="1061" r="10"/><text x="1115" y="1061" font-size="23">ontology</text></g>
<g id="smart-grids" class="g"><circle cx="722" cy="157" r="9"/><text x="722" y="156" font-size="22">smart grids</text></g>
<g id="sdn" class="g"><circle cx="519" cy="235" r="9"/><text x="519" y="235" font-size="22">sdn</text></g>
<g id="energy-efficiency" class="g"><circle cx="693" cy="297" r="9"/><text x="693" y="297" font-size="20.5">energy efficiency</text></g>
<g id="artificial-intelligence" class="g"><circle cx="898" cy="368" r="9"/><text x="898" y="368" font-size="20.5">artificial intelligence (ai)</text></g>
<g id="mobile" class="g"><circle cx="442" cy="384" r="9"/><text x="442" y="384" font-size="20.5">mobile</text></g>
<g id="selection" class="g"><circle cx="1094" cy="394" r="9"/><text x="1094" y="394" font-size="20.5">selection</text></g>
<g id="trust-management" class="g"><circle cx="358" cy="487" r="9"/><text x="358" y="487" font-size="20.5">trust management</text></g>
<g id="internet-of-vehicles" class="g"><circle cx="240" cy="637" r="9"/><text x="240" y="637" font-size="21.5">internet of vehicles</text></g>
<g id="iot-security" class="g"><circle cx="500" cy="723" r="9"/><text x="500" y="723" font-size="21.5">iot security</text></g>
<g id="dlt" class="y"><circle cx="922" cy="1043" r="9"/><text x="922" y="1043" font-size="21.5">dlt</text></g>
<g id="personal-data" class="y"><circle cx="848" cy="1265" r="9"/><text x="848" y="1265" font-size="21.5">personal data</text></g>
<g id="auditing" class="b"><circle cx="848" cy="1108" r="9"/><text x="877" y="1090" font-size="20.5">auditing</text></g>
<g id="pki" class="b"><circle cx="397" cy="1096" r="9"/><text x="397" y="1096" font-size="23">pki</text></g>
<g id="platform" class="r"><circle cx="1329" cy="373" r="9"/><text x="1329" y="373" font-size="20.5">platform</text></g>
<g id="barriers" class="r"><circle cx="1378" cy="434" r="9"/><text x="1378" y="434" font-size="22.5">barriers</text></g>
<g id="perspective" class="r"><circle cx="1380" cy="517" r="9"/><text x="1380" y="517" font-size="20.5">perspective</text></g>
<g id="gold" class="r"><circle cx="1255" cy="633" r="9"/><text x="1255" y="633" font-size="21.5">gold</text></g>
<g id="disruption" class="r"><circle cx="1460" cy="668" r="9"/><text x="1460" y="668" font-size="21.5">disruption</text></g>
<g id="entrepreneurship" class="r"><circle cx="1456" cy="797" r="9"/><text x="1456" y="797" font-size="23">entrepreneurship</text></g>
<g id="china" class="r"><circle cx="1331" cy="844" r="9"/><text x="1331" y="844" font-size="21.5">china</text></g>
<g id="fraud" class="r"><circle cx="1161" cy="877" r="9"/><text x="1161" y="877" font-size="21.5">fraud</text></g>
<g id="ico" class="r"><circle cx="1369" cy="980" r="9"/><text x="1369" y="980" font-size="21.5">ico</text></g>
<g id="digitization" class="r"><circle cx="1287" cy="1041" r="9"/><text x="1287" y="1041" font-size="21.5">digitization</text></g>
<g id="peer-to-peer-energy-trading" class="g"><circle cx="950" cy="155" r="8"/><text x="950" y="153" font-size="20.5">peer-to-peer energy trading</text></g>
<g id="energy-internet" class="g"><circle cx="818" cy="214" r="8"/><text x="818" y="214" font-size="20.5">energy internet</text></g>
<g id="edge" class="g"><circle cx="428" cy="291" r="8"/><text x="428" y="291" font-size="21.5">edge</text></g>
<g id="smart-manufacturing" class="g"><circle cx="935" cy="292" r="8"/><text x="935" y="292" font-size="20.5">smart manufacturing</text></g>
<g id="delays" class="g"><circle cx="288" cy="392" r="8"/><text x="288" y="392" font-size="20.5">delays</text></g>
<g id="game" class="g"><circle cx="593" cy="482" r="8"/><text x="593" y="482" font-size="20.5">game</text></g>
<g id="incentives" class="g"><circle cx="901" cy="713" r="8"/><text x="901" y="713" font-size="20.5">incentives</text></g>
<g id="dapp" class="g"><circle cx="962" cy="1195" r="8"/><text x="960" y="1192" font-size="21.5">dapp</text></g>
<g id="health-care" class="y"><circle cx="720" cy="696" r="8"/><text x="710" y="695" font-size="20.5">health-care</text></g>
<g id="e-health" class="y"><circle cx="217" cy="690" r="8"/><text x="217" y="690" font-size="20.5">e-health</text></g>
<g id="lightweight" class="y"><circle cx="160" cy="761" r="8"/><text x="160" y="761" font-size="20.5">lightweight</text></g>
<g id="pbft" class="b"><circle cx="420" cy="951" r="8"/><text x="420" y="951" font-size="20.5">pbft</text></g>
<g id="hyperledger-composer" class="b"><circle cx="816" cy="1311" r="8"/><text x="816" y="1311" font-size="21.5">hyperledger composer</text></g>
<g id="software-engineering" class="b"><circle cx="997" cy="1113" r="8"/><text x="1104" y="1112" font-size="21.5">software engineering</text></g>
<g id="chain" class="r"><circle cx="1318" cy="581" r="8"/><text x="1318" y="581" font-size="20.5">chain</text></g>
<g id="ethics" class="r"><circle cx="993" cy="794" r="8"/><text x="993" y="794" font-size="21.5">ethics</text></g>
<g id="tokenization" class="r"><circle cx="1500" cy="986" r="8"/><text x="1500" y="986" font-size="21.5">tokenization</text></g>
<g id="audit" class="r"><circle cx="1001" cy="1012" r="8"/><text x="1001" y="1012" font-size="20.5">audit</text></g>
<g id="tokens" class="r"><circle cx="1405" cy="1028" r="8"/><text x="1405" y="1028" font-size="21.5">tokens</text></g>
<g id="virtual-currency" class="r"><circle cx="1428" cy="1065" r="8"/><text x="1428" y="1065" font-size="21.5">virtual currency</text></g>
<g id="copyright" class="r"><circle cx="1088" cy="1147" r="8"/><text x="1088" y="1147" font-size="21.5">copyright</text></g>
<g id="research-issues" class="g"><circle cx="399" cy="247" r="7"/><text x="399" y="247" font-size="20.5">research issues</text></g>
<g id="pricing" class="g"><circle cx="553" cy="297" r="7"/><text x="553" y="297" font-size="20.5">pricing</text></g>
<g id="vanet" class="g"><circle cx="266" cy="596" r="7"/><text x="266" y="596" font-size="20.5">vanet</text></g>
<g id="uav" class="y"><circle cx="321" cy="600" r="9"/><text x="363" y="592" font-size="20.5">uav</text></g>
<g id="searchable-encryption" class="y"><circle cx="119" cy="722" r="7"/><text x="119" y="722" font-size="20.5">searchable encryption</text></g>
<g id="hashing" class="b"><circle cx="317" cy="1136" r="7"/><text x="317" y="1136" font-size="21.5">hashing</text></g>
<g id="software-defined-networking" class="g"><circle cx="384" cy="170" r="6"/><text x="382" y="170" font-size="20.5">software-defined networking</text></g>
<g id="fog" class="g"><circle cx="548" cy="189" r="6"/><text x="548" y="189" font-size="20.5">fog</text></g>
<g id="review" class="g"><circle cx="1116" cy="252" r="6"/><text x="1116" y="252" font-size="20.5">review</text></g>
<g id="double-auction" class="g"><circle cx="754" cy="24" r="5"/><text x="752" y="24" font-size="20.5">double auction</text></g>
<g id="formal-verification" class="y"><circle cx="589" cy="1416" r="6"/><text x="587" y="1413" font-size="20.5">formal verification</text></g>
</g>
</g>
</svg>
